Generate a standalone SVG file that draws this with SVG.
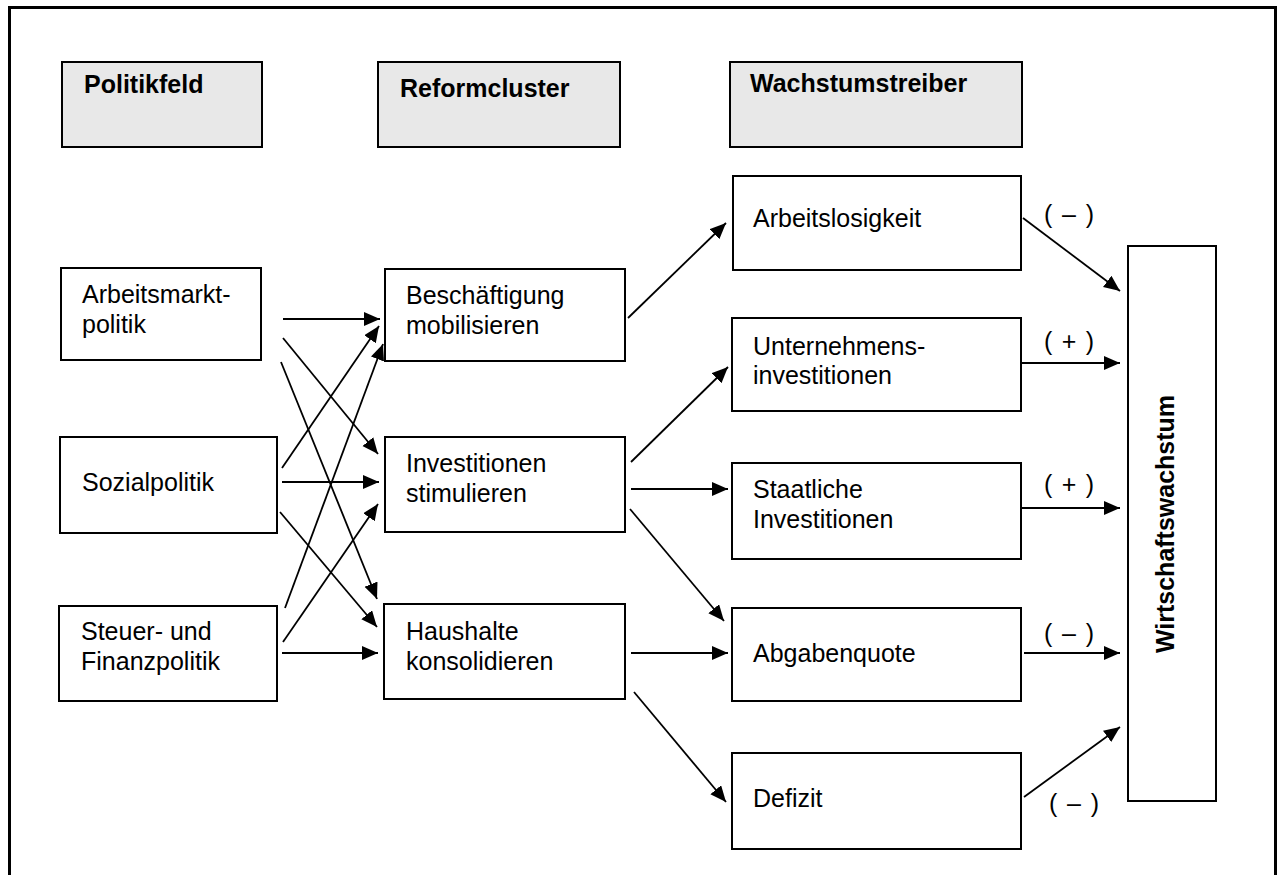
<svg xmlns="http://www.w3.org/2000/svg" width="1281" height="875" viewBox="0 0 1281 875">
<defs>
<marker id="ah" markerUnits="userSpaceOnUse" markerWidth="18" markerHeight="15" refX="16" refY="7" orient="auto">
<path d="M0,0 L16,7 L0,14 Z" fill="#000"/>
</marker>
</defs>
<style>
.bx{fill:#fff;stroke:#000;stroke-width:2}
.hd{fill:#e8e8e8;stroke:#000;stroke-width:2}
.t{font-family:"Liberation Sans",Arial,sans-serif;font-size:25px;fill:#000}
.tb{font-family:"Liberation Sans",Arial,sans-serif;font-size:25px;font-weight:bold;fill:#000}
.c line{stroke:#000;stroke-width:1.8;marker-end:url(#ah)}
</style>
<rect x="0" y="0" width="1281" height="875" fill="#fff"/>
<rect id="frame" x="9.5" y="7.5" width="1266" height="900" fill="none" stroke="#000" stroke-width="3"/>

<g id="h-politikfeld"><rect class="hd" x="62" y="62" width="200" height="85"/><text class="tb" x="84" y="93">Politikfeld</text></g>
<g id="h-reformcluster"><rect class="hd" x="378" y="62" width="242" height="85"/><text class="tb" x="400" y="97">Reformcluster</text></g>
<g id="h-wachstumstreiber"><rect class="hd" x="730" y="62" width="292" height="85"/><text class="tb" x="750" y="92">Wachstumstreiber</text></g>

<g id="n-arbeitsmarkt"><rect class="bx" x="61" y="268" width="200" height="92"/><text class="t" x="82" y="303">Arbeitsmarkt-<tspan x="82" y="333">politik</tspan></text></g>
<g id="n-sozial"><rect class="bx" x="60" y="437" width="217" height="96"/><text class="t" x="82" y="491">Sozialpolitik</text></g>
<g id="n-steuer"><rect class="bx" x="59" y="606" width="218" height="95"/><text class="t" x="81" y="640">Steuer- und<tspan x="81" y="670">Finanzpolitik</tspan></text></g>

<g id="n-beschaeftigung"><rect class="bx" x="385" y="269" width="240" height="92"/><text class="t" x="406" y="304">Beschäftigung<tspan x="406" y="334">mobilisieren</tspan></text></g>
<g id="n-investitionen"><rect class="bx" x="385" y="437" width="240" height="95"/><text class="t" x="406" y="472">Investitionen<tspan x="406" y="502">stimulieren</tspan></text></g>
<g id="n-haushalte"><rect class="bx" x="384" y="604" width="241" height="95"/><text class="t" x="406" y="640">Haushalte<tspan x="406" y="670">konsolidieren</tspan></text></g>

<g id="n-arbeitslosigkeit"><rect class="bx" x="733" y="176" width="288" height="94"/><text class="t" x="753" y="227">Arbeitslosigkeit</text></g>
<g id="n-unternehmen"><rect class="bx" x="732" y="318" width="289" height="93"/><text class="t" x="753" y="355">Unternehmens-<tspan x="753" y="384">investitionen</tspan></text></g>
<g id="n-staatliche"><rect class="bx" x="732" y="463" width="289" height="96"/><text class="t" x="753" y="498">Staatliche<tspan x="753" y="528">Investitionen</tspan></text></g>
<g id="n-abgabenquote"><rect class="bx" x="732" y="608" width="289" height="93"/><text class="t" x="753" y="662">Abgabenquote</text></g>
<g id="n-defizit"><rect class="bx" x="732" y="753" width="289" height="96"/><text class="t" x="753" y="807">Defizit</text></g>

<g id="n-wachstum"><rect class="bx" x="1128" y="246" width="88" height="555"/><text class="tb" transform="translate(1174,524) rotate(-90)" text-anchor="middle">Wirtschaftswachstum</text></g>

<g id="connectors" class="c">
<line x1="283" y1="319" x2="380" y2="319"/>
<line x1="283" y1="338" x2="378" y2="454"/>
<line x1="281" y1="362" x2="377" y2="599"/>
<line x1="282" y1="468" x2="379" y2="326"/>
<line x1="282" y1="482" x2="379" y2="482"/>
<line x1="280" y1="512" x2="377" y2="627"/>
<line x1="285" y1="608" x2="383" y2="344"/>
<line x1="283" y1="642" x2="378" y2="504"/>
<line x1="282" y1="653" x2="378" y2="653"/>
<line x1="628" y1="318" x2="726" y2="223"/>
<line x1="631" y1="462" x2="728" y2="367"/>
<line x1="631" y1="489" x2="728" y2="489"/>
<line x1="630" y1="509" x2="724" y2="621"/>
<line x1="631" y1="653" x2="728" y2="653"/>
<line x1="634" y1="692" x2="726" y2="802"/>
<line x1="1023" y1="218" x2="1120" y2="291"/>
<line x1="1022" y1="363" x2="1120" y2="363"/>
<line x1="1022" y1="508" x2="1120" y2="508"/>
<line x1="1024" y1="653" x2="1120" y2="653"/>
<line x1="1024" y1="797" x2="1120" y2="727"/>
</g>

<g id="labels">
<text class="t" x="1044" y="223" textLength="50" lengthAdjust="spacing">( – )</text>
<text class="t" x="1044" y="350" textLength="50" lengthAdjust="spacing">( + )</text>
<text class="t" x="1044" y="493" textLength="50" lengthAdjust="spacing">( + )</text>
<text class="t" x="1044" y="642" textLength="50" lengthAdjust="spacing">( – )</text>
<text class="t" x="1049" y="812" textLength="50" lengthAdjust="spacing">( – )</text>
</g>
</svg>
